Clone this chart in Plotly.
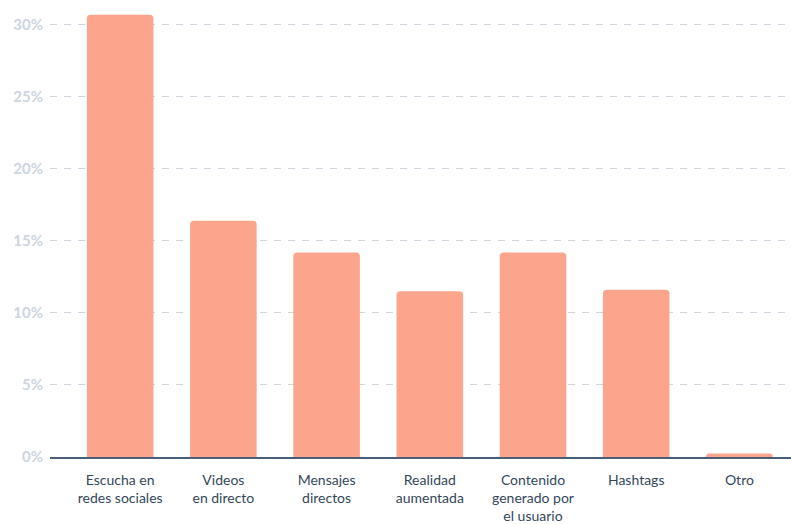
import plotly.graph_objects as go

categories = ["Escucha en<br>redes sociales", "Videos<br>en directo", "Mensajes<br>directos",
              "Realidad<br>aumentada", "Contenido<br>generado por<br>el usuario", "Hashtags", "Otro"]
values = [30.7, 16.4, 14.2, 11.5, 14.2, 11.6, 0.25]
y_ticks = [0, 5, 10, 15, 20, 25, 30]
y_tick_labels = ["0%", "5%", "10%", "15%", "20%", "25%", "30%"]

fig = go.Figure()
fig.add_trace(go.Bar(
    x=list(range(len(categories))), y=values,
    marker=dict(color="#FCA48C", cornerradius=4, line=dict(width=0)),
    width=0.645,
))
fig.update_layout(
    width=791, height=524,
    margin=dict(l=50, r=0, t=5, b=65),
    plot_bgcolor="white", paper_bgcolor="white",
    showlegend=False,
    font=dict(family="Lato, Open Sans, sans-serif"),
    xaxis=dict(
        tickmode="array", tickvals=list(range(len(categories))), ticktext=categories,
        range=[-0.68, 6.5], showgrid=False, zeroline=False,
        showline=True, linecolor="#4B5E78", linewidth=2,
        ticks="", tickfont=dict(size=14, color="#33475B"),
        ticklabelstandoff=9,
    ),
    yaxis=dict(
        range=[0, 31.37], tickmode="array", tickvals=y_ticks, ticktext=y_tick_labels,
        showgrid=True, gridcolor="#CFD6E0", griddash="7px,7px", gridwidth=1.4,
        zeroline=False, showline=False,
        tickfont=dict(size=15, color="#CDD5E0", family="Lato, sans-serif", weight="bold"),
        ticklabelstandoff=6,
    ),
)
fig.write_html("out.html", config={"displayModeBar": False},
               post_script="document.body.style.margin='0';")
